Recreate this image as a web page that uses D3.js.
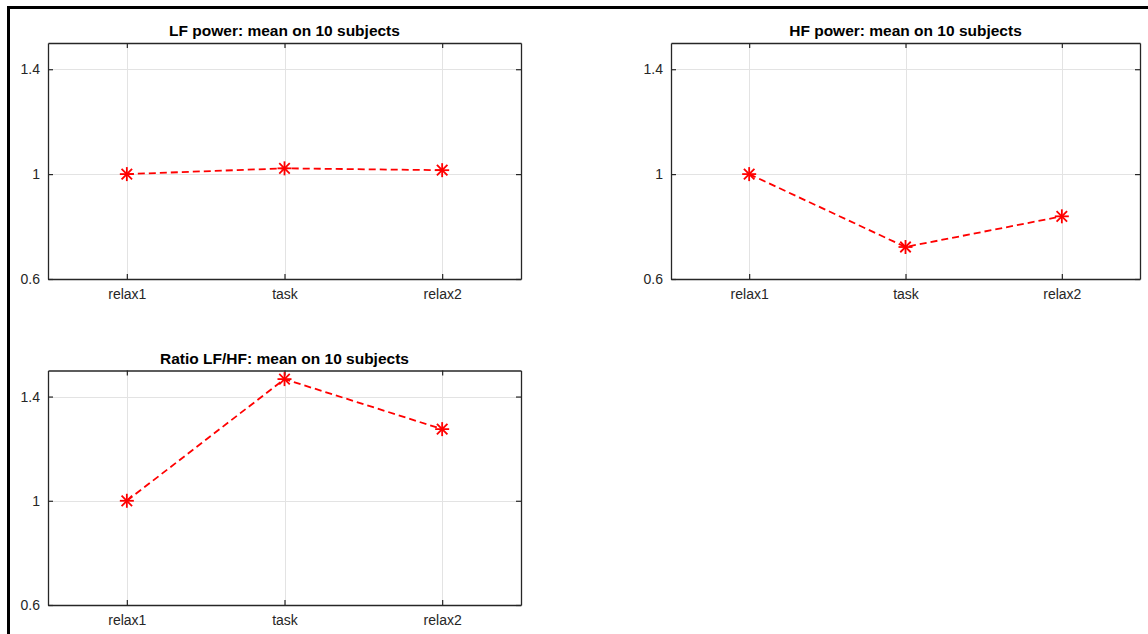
<!DOCTYPE html>
<html><head><meta charset="utf-8">
<script src="https://cdn.jsdelivr.net/npm/d3@7"></script>
<style>body{margin:0;background:#fff;} svg{display:block;}</style>
</head><body>
<svg id="c" width="1148" height="634"></svg>
<script>
const categories = ["relax1", "task", "relax2"];
const lfValues = [1.0, 1.022, 1.015];
const hfValues = [1.0, 0.722, 0.839];
const ratioValues = [1.0, 1.467, 1.275];
const yTicks = [0.6, 1.0, 1.4];
const titles = ["LF power: mean on 10 subjects", "HF power: mean on 10 subjects", "Ratio LF/HF: mean on 10 subjects"];

const svg = d3.select("#c");
// figure frame
svg.append("line").attr("x1",8.5).attr("x2",1148).attr("y1",7.5).attr("y2",7.5).attr("stroke","#000").attr("stroke-width",3);
svg.append("line").attr("x1",8.5).attr("x2",8.5).attr("y1",6).attr("y2",634).attr("stroke","#000").attr("stroke-width",3);

const panels = [
  {x0:48, x1:521, y0:43, y1:279, vals:lfValues, title:titles[0]},
  {x0:671, x1:1140, y0:43, y1:279, vals:hfValues, title:titles[1]},
  {x0:48, x1:521, y0:370.5, y1:605, vals:ratioValues, title:titles[2]}
];
const axisColor = "#262626";
const font = "'Liberation Sans', Arial, Helvetica, sans-serif";

panels.forEach(p => {
  const g = svg.append("g");
  const x = d3.scaleLinear().domain([0.5, 3.5]).range([p.x0, p.x1]);
  const y = d3.scaleLinear().domain([0.6, 1.5]).range([p.y1, p.y0]);
  const xi = categories.map((c,i)=>i+1);
  g.append("rect").attr("x",p.x0).attr("y",p.y0).attr("width",p.x1-p.x0).attr("height",p.y1-p.y0).attr("fill","#fff");
  // grid
  g.selectAll(".gx").data(xi).join("line")
    .attr("x1",d=>Math.round(x(d))+0.5).attr("x2",d=>Math.round(x(d))+0.5)
    .attr("y1",p.y0).attr("y2",p.y1).attr("stroke","#e3e3e3").attr("stroke-width",1);
  g.selectAll(".gy").data(yTicks).join("line")
    .attr("y1",d=>Math.round(y(d))+0.5).attr("y2",d=>Math.round(y(d))+0.5)
    .attr("x1",p.x0).attr("x2",p.x1).attr("stroke","#e3e3e3").attr("stroke-width",1);
  // axes with inward ticks
  const fmt = d => d===1 ? "1" : d3.format(".1f")(d);
  const ax = g.append("g").attr("transform",`translate(0,${p.y1})`)
    .call(d3.axisBottom(x).tickValues(xi).tickFormat((d,i)=>categories[i]).tickSizeInner(-5).tickSizeOuter(0).tickPadding(10));
  const axTop = g.append("g").attr("transform",`translate(0,${p.y0})`)
    .call(d3.axisTop(x).tickValues(xi).tickFormat("").tickSizeInner(-5).tickSizeOuter(0));
  const ay = g.append("g").attr("transform",`translate(${p.x0},0)`)
    .call(d3.axisLeft(y).tickValues(yTicks).tickFormat(fmt).tickSizeInner(-5).tickSizeOuter(0).tickPadding(8));
  const ayR = g.append("g").attr("transform",`translate(${p.x1},0)`)
    .call(d3.axisRight(y).tickValues(yTicks).tickFormat("").tickSizeInner(-5).tickSizeOuter(0));
  [ax,axTop,ay,ayR].forEach(a=>{
    a.selectAll("path").attr("stroke",axisColor).attr("stroke-width",1.3);
    a.selectAll("line").attr("stroke",axisColor).attr("stroke-width",1.2);
    a.selectAll("text").attr("fill",axisColor).style("font-family",font).style("font-size","14px");
  });
  // title
  g.append("text").attr("x",(p.x0+p.x1)/2).attr("y",p.y0-7).attr("text-anchor","middle")
    .style("font-family",font).style("font-size","15.5px").style("font-weight","bold").attr("fill","#000").text(p.title);
  // line
  const pts = p.vals.map((v,i)=>[x(i+1), y(v)]);
  g.append("path").attr("d",d3.line()(pts)).attr("fill","none").attr("stroke","#ff0000")
    .attr("stroke-width",1.8).attr("stroke-dasharray","7,4");
  // asterisk markers
  const s = 7;
  pts.forEach(([px,py])=>{
    const m = g.append("g").attr("transform",`translate(${px},${py})`).attr("stroke","#ff0000").attr("stroke-width",1.8);
    m.append("line").attr("x1",-s).attr("x2",s).attr("y1",0).attr("y2",0);
    m.append("line").attr("x1",0).attr("x2",0).attr("y1",-s).attr("y2",s);
    const d = s*0.75;
    m.append("line").attr("x1",-d).attr("x2",d).attr("y1",-d).attr("y2",d);
    m.append("line").attr("x1",-d).attr("x2",d).attr("y1",d).attr("y2",-d);
  });
});
</script>
</body></html>
